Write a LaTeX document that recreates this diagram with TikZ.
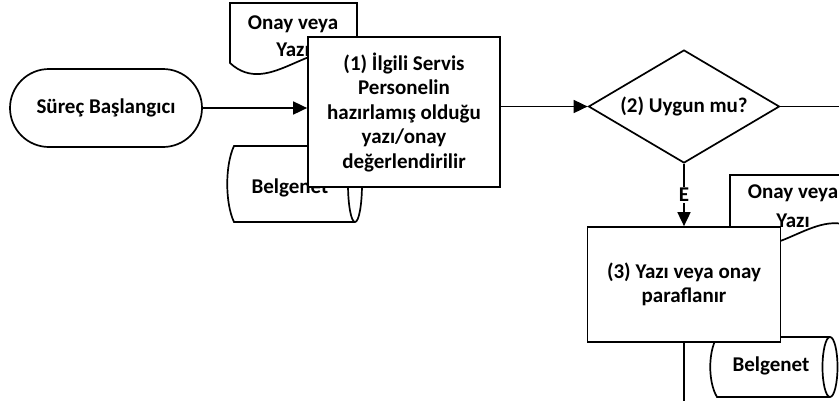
\documentclass[tikz,border=0pt]{standalone}
\usepackage{fontspec}
\setmainfont{Carlito}
\usetikzlibrary{arrows.meta,shapes.geometric,shapes.misc}
\begin{document}
\begin{tikzpicture}[x=1pt,y=-1pt,
  every node/.style={font=\fontsize{21}{24.5}\selectfont\bfseries},
  ln/.style={line width=1.7pt},
  arr/.style={ln,-{Triangle[length=14pt,width=13pt]}},
  box/.style={draw,ln,fill=white,align=center,inner sep=0pt},
  doctext/.style={align=center,font=\fontsize{21}{27}\selectfont\bfseries}
]
\fill[white] (0,0) rectangle (839,400);
\useasboundingbox (0,0) rectangle (839,400);
\clip (0,0) rectangle (839,400);

% start terminator
\node[box,rounded rectangle,minimum width=192pt,minimum height=78pt] (start) at (106,108) {Süreç Başlangıcı};

% top-left document
\draw[ln,fill=white] (230,3) -- (357,3) -- (357,58) .. controls (315,30) and (270,100) .. (230,63) -- cycle;
\node[doctext] (doc1) at (293,36) {Onay veya\\Yazı};

% left data store
\draw[ln,fill=white] (355,146) -- (234,146) .. controls (225,165) and (225,203) .. (234,222) -- (355,222);
\draw[ln,fill=white] (355,184) ellipse [x radius=7pt, y radius=38pt];
\node (bg1) at (290,188) {Belgenet};

% process 1
\node[box,minimum width=192pt,minimum height=150pt] (p1) at (404,112) {(1) İlgili Servis\\Personelin\\hazırlamış olduğu\\yazı/onay\\değerlendirilir};

% decision 2
\node[box,diamond,shape aspect=1.69,minimum width=191pt,minimum height=113pt] (d2) at (684,106.5) {(2) Uygun mu?};

% right document
\draw[ln,fill=white] (730,175) -- (857,175) -- (857,230) .. controls (815,202) and (770,272) .. (730,235) -- cycle;
\node[doctext,font=\fontsize{21}{29}\selectfont\bfseries] (doc2) at (793,206) {Onay veya\\Yazı};

% right data store
\draw[ln,fill=white] (830,337) -- (717,337) .. controls (708,352) and (708,382) .. (717,397) -- (830,397);
\draw[ln,fill=white] (830,367) ellipse [x radius=7.5pt, y radius=30pt];
\node (bg2) at (771,366) {Belgenet};

% process 3
\node[box,minimum width=193pt,minimum height=115pt] (p3) at (684,284.5) {(3) Yazı veya onay\\paraflanır};

% connectors
\coordinate (o1) at (850,106.5);
\coordinate (o2) at (684,410);
\draw[arr] (start.east) -- (start.east -| p1.west);
\draw[arr] (d2.west -| p1.east) -- (d2.west);
\draw[ln] (d2.east) -- (o1);
\draw[arr] (d2.south) -- node[fill=white,inner sep=1.5pt,pos=0.5] (lblE) {E} (p3.north);
\draw[ln] (p3.south) -- (o2);
\end{tikzpicture}
\end{document}
